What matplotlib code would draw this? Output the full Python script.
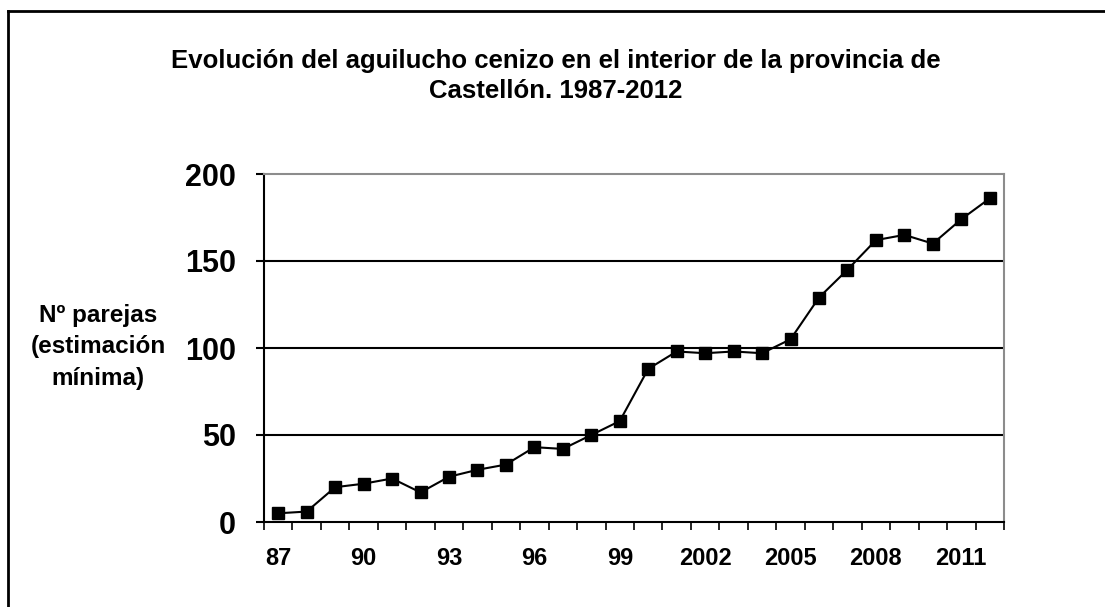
import matplotlib
matplotlib.use("Agg")
import matplotlib.pyplot as plt
from matplotlib.lines import Line2D

years = [1987, 1988, 1989, 1990, 1991, 1992, 1993, 1994, 1995, 1996, 1997, 1998, 1999,
         2000, 2001, 2002, 2003, 2004, 2005, 2006, 2007, 2008, 2009, 2010, 2011, 2012]
pairs = [5, 6, 20, 22, 25, 17, 26, 30, 33, 43, 42, 50, 58,
         88, 98, 97, 98, 97, 105, 129, 145, 162, 165, 160, 174, 186]
xtick_labels = ["87", "90", "93", "96", "99", "2002", "2005", "2008", "2011"]
ytick_values = [0, 50, 100, 150, 200]
title = "Evolución del aguilucho cenizo en el interior de la provincia de\nCastellón. 1987-2012"
ylabel = "Nº parejas\n(estimación\nmínima)"

plt.rcParams['font.family'] = ['Liberation Sans', 'DejaVu Sans']
plt.rcParams['font.weight'] = 'bold'

W, H = 1105, 607
fig = plt.figure(figsize=(W / 100, H / 100), dpi=100)
fig.patch.set_facecolor('white')

# outer chart border (left & top visible)
fig.add_artist(Line2D([8 / W, 8 / W], [0, 1 - 11 / H], transform=fig.transFigure,
                      color='black', lw=2.0))
fig.add_artist(Line2D([8 / W, 1], [1 - 11 / H, 1 - 11 / H], transform=fig.transFigure,
                      color='black', lw=2.0))

ax = fig.add_axes([264 / W, 1 - 522 / H, (1004 - 264) / W, (522 - 174) / H])

x = list(range(len(years)))
ax.plot(x, pairs, color='black', lw=1.5, marker='s', markersize=8.5,
        markerfacecolor='black', markeredgecolor='black', zorder=5, clip_on=False)

ax.set_xlim(-0.5, len(years) - 0.5)
ax.set_ylim(0, 200)

# gridlines
for v in ytick_values[1:-1]:
    ax.axhline(v, color='black', lw=1.5, zorder=1)

# spines
ax.spines['left'].set_color('black')
ax.spines['left'].set_linewidth(1.5)
ax.spines['bottom'].set_color('black')
ax.spines['bottom'].set_linewidth(1.5)
ax.spines['top'].set_color('#8c8c8c')
ax.spines['top'].set_linewidth(1.5)
ax.spines['right'].set_color('#8c8c8c')
ax.spines['right'].set_linewidth(1.5)

# y ticks
ax.set_yticks(ytick_values)
ax.set_yticklabels([str(v) for v in ytick_values], fontsize=22, fontweight='bold')
ax.tick_params(axis='y', direction='out', length=6, width=1.5, pad=14)

# x ticks: marks at category boundaries, labels every 3rd category
ax.set_xticks([i - 0.5 for i in range(len(years) + 1)])
ax.set_xticklabels([])
ax.tick_params(axis='x', direction='out', length=6, width=1.2)
ax.set_xticks(list(range(0, len(years), 3)), minor=True)
ax.set_xticklabels(xtick_labels, minor=True, fontsize=17, fontweight='bold')
ax.tick_params(axis='x', which='minor', length=0, pad=18)

fig.text(556 / W, 1 - 76 / H, title, ha='center', va='center', fontsize=18.5,
         fontweight='bold', linespacing=1.35)
fig.text(98 / W, 1 - 347 / H, ylabel, ha='center', va='center', fontsize=17.5,
         fontweight='bold', linespacing=1.45)

fig.savefig('out.png', dpi=100, facecolor='white')
